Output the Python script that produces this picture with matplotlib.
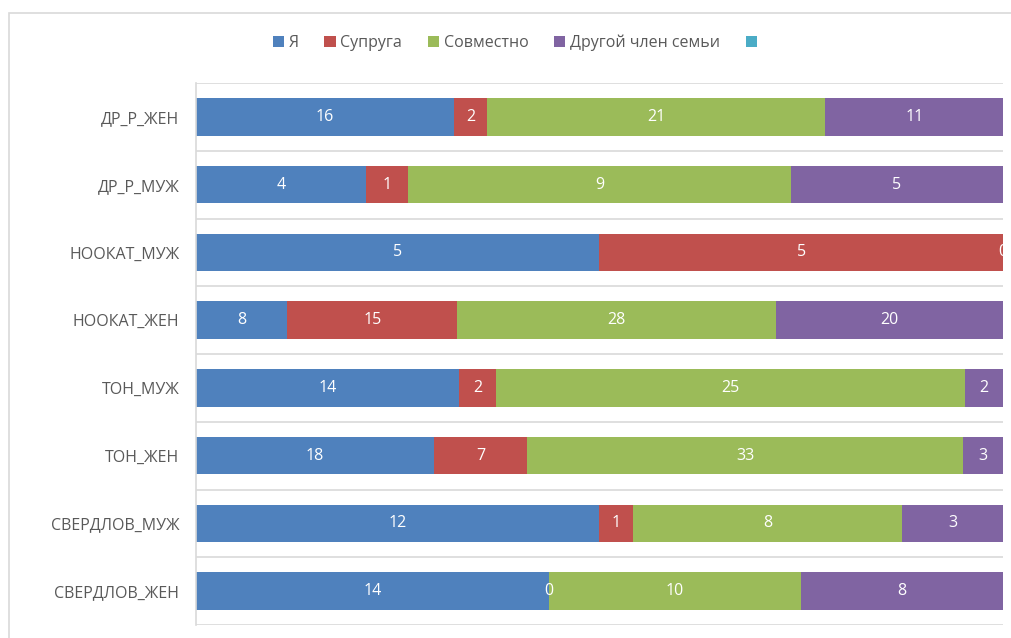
import numpy as np
import matplotlib.pyplot as plt
from matplotlib.patches import Rectangle, Patch

plt.rcParams['font.family'] = ['Open Sans', 'DejaVu Sans']

categories = ['ДР_Р_ЖЕН', 'ДР_Р_МУЖ', 'НООКАТ_МУЖ', 'НООКАТ_ЖЕН',
              'ТОН_МУЖ', 'ТОН_ЖЕН', 'СВЕРДЛОВ_МУЖ', 'СВЕРДЛОВ_ЖЕН']
series_names = ['Я', 'Супруга', 'Совместно', 'Другой член семьи', '']
ya = [16, 4, 5, 8, 14, 18, 12, 14]
spouse = [2, 1, 5, 15, 2, 7, 1, 0]
joint = [21, 9, 0, 28, 25, 33, 8, 10]
other = [11, 5, np.nan, 20, 2, 3, 3, 8]
extra = [np.nan] * 8
colors = ['#4F81BD', '#C0504D', '#9BBB59', '#8064A2', '#4BACC6']

vals = np.array([ya, spouse, joint, other, extra], dtype=float)
totals = np.nansum(vals, axis=0)
frac = np.nan_to_num(vals) / totals

fig = plt.figure(figsize=(10.12, 6.38), dpi=100)
ax = fig.add_axes([196 / 1012, 13 / 638, 807 / 1012, 542 / 638])

# outer chart border (cropped on the right and bottom)
fig.patches.append(Rectangle((9 / 1012, -0.2), 1.2, 1.2 - 13 / 638,
                             transform=fig.transFigure, fill=False,
                             edgecolor='#d9d9d9', linewidth=1.2))

y = np.arange(len(categories))
left = np.zeros(len(categories))
for k in range(len(series_names)):
    ax.barh(y, frac[k], left=left, height=0.55, color=colors[k],
            edgecolor='none')
    for i in range(len(categories)):
        v = vals[k, i]
        if not np.isnan(v):
            ax.text(left[i] + frac[k, i] / 2, y[i], f'{int(v)}',
                    ha='center', va='center', color='white', fontsize=11.5,
                    clip_on=True)
    left += frac[k]

ax.set_xlim(0, 1)
ax.set_ylim(len(categories) - 0.5, -0.5)
ax.set_yticks(y)
ax.set_yticklabels(categories, color='#595959', fontsize=11.5)
ax.set_xticks([])
ax.tick_params(axis='y', length=0, pad=12)
for b in np.arange(-0.5, len(categories), 1.0):
    ax.axhline(b, color='#d9d9d9', linewidth=1.2, zorder=0)
for s in ['top', 'right', 'bottom']:
    ax.spines[s].set_visible(False)
ax.spines['left'].set_color('#d9d9d9')
ax.spines['left'].set_linewidth(1.2)

handles = [Patch(facecolor=c, edgecolor='none') for c in colors]
fig.legend(handles, series_names, loc='center', ncol=5,
           bbox_to_anchor=(0.511, 1 - 43 / 638), frameon=False,
           fontsize=11.5, handlelength=0.7, handleheight=0.7,
           handletextpad=0.3, columnspacing=1.6, labelcolor='#595959')

fig.savefig('out.png', dpi=100)
